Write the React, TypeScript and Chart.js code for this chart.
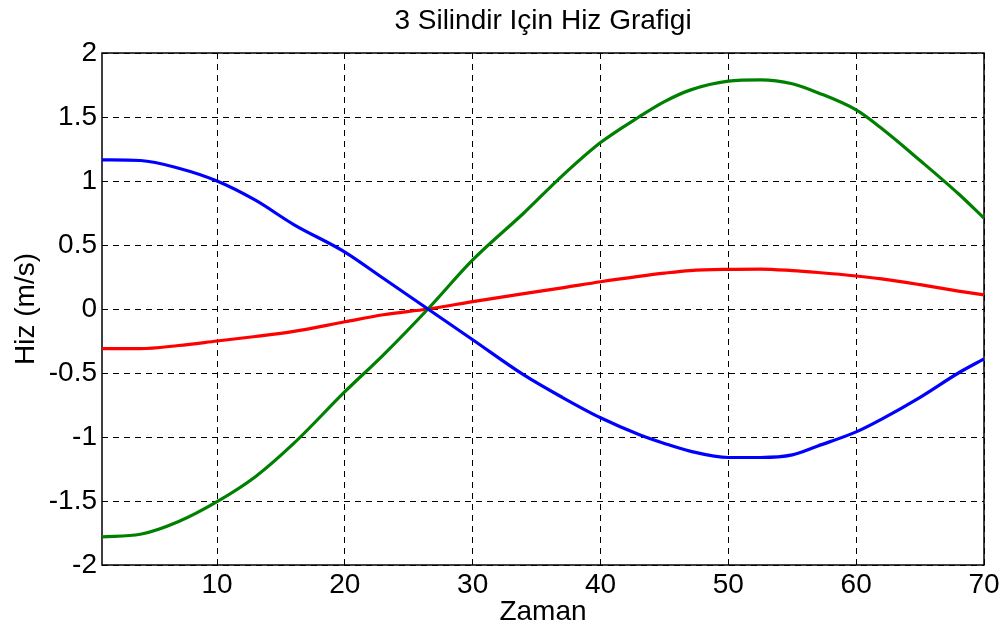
import React, { useEffect, useRef } from "react";
import { Chart, registerables } from "chart.js";

Chart.register(...registerables);

const titleText = "3 Silindir Için Hiz Grafigi";
const xLabel = "Zaman";
const yLabel = "Hiz (m/s)";

const xValues = [1, 4, 7, 10, 13, 16, 20, 23, 26.5, 30, 34, 37, 40, 43, 45, 47, 50, 52.5, 55, 57, 60, 62, 65, 68, 70];
const blueValues = [1.165, 1.16, 1.1, 1.0, 0.85, 0.66, 0.445, 0.24, 0.0, -0.24, -0.515, -0.69, -0.85, -0.98, -1.05, -1.11, -1.16, -1.16, -1.14, -1.07, -0.96, -0.86, -0.69, -0.5, -0.39];
const greenValues = [-1.78, -1.76, -1.66, -1.505, -1.31, -1.05, -0.646, -0.36, 0.0, 0.383, 0.75, 1.04, 1.3, 1.5, 1.62, 1.71, 1.78, 1.79, 1.76, 1.69, 1.555, 1.41, 1.16, 0.9, 0.71];
const redValues = [-0.31, -0.31, -0.285, -0.25, -0.215, -0.175, -0.1, -0.045, 0.0, 0.057, 0.12, 0.165, 0.213, 0.255, 0.28, 0.3, 0.31, 0.312, 0.3, 0.285, 0.258, 0.235, 0.19, 0.14, 0.11];

const xTicks = [10, 20, 30, 40, 50, 60, 70];
const yTicks = [-2, -1.5, -1, -0.5, 0, 0.5, 1, 1.5, 2];

const FONT = "'Liberation Sans', Arial, sans-serif";
const FSIZE = 28;

const toPoints = (ys: number[]) => xValues.map((x, i) => ({ x, y: ys[i] }));

const overlayPlugin = {
  id: "overlay",
  beforeDatasetsDraw(chart: any) {
    const { ctx, chartArea } = chart;
    ctx.save();
    ctx.setLineDash([]);
    ctx.strokeStyle = "#000";
    ctx.lineWidth = 1.5;
    ctx.strokeRect(chartArea.left, chartArea.top, chartArea.right - chartArea.left, chartArea.bottom - chartArea.top);
    ctx.restore();
  },
  afterDraw(chart: any) {
    const { ctx, chartArea } = chart;
    const cx = (chartArea.left + chartArea.right) / 2;
    const cy = (chartArea.top + chartArea.bottom) / 2;
    ctx.save();
    ctx.fillStyle = "#000";
    ctx.textAlign = "center";
    ctx.textBaseline = "middle";
    ctx.font = `${FSIZE}px ${FONT}`;
    ctx.fillText(titleText, cx, 21);
    ctx.fillText(xLabel, cx, 612);
    ctx.translate(26, cy);
    ctx.rotate(-Math.PI / 2);
    ctx.fillText(yLabel, 0, 0);
    ctx.restore();
  },
};

export default function App() {
  const ref = useRef<HTMLCanvasElement>(null);
  useEffect(() => {
    if (!ref.current) return;
    const mk = (label: string, data: number[], color: string) => ({
      label,
      data: toPoints(data),
      borderColor: color,
      backgroundColor: color,
      borderWidth: 3.2,
      pointRadius: 0,
      cubicInterpolationMode: "monotone" as const,
      fill: false,
    });
    const chart = new Chart(ref.current, {
      type: "line",
      data: {
        datasets: [
          mk("blue", blueValues, "#0000ff"),
          mk("green", greenValues, "#008000"),
          mk("red", redValues, "#ff0000"),
        ],
      },
      options: {
        responsive: false,
        animation: false,
        layout: { padding: { top: 53, right: 21, left: 0, bottom: 0 } },
        plugins: { legend: { display: false }, title: { display: false }, tooltip: { enabled: false } },
        scales: {
          x: {
            type: "linear",
            min: 1,
            max: 70,
            afterBuildTicks: (scale: any) => {
              scale.ticks = xTicks.map((v) => ({ value: v }));
            },
            afterFit: (scale: any) => {
              scale.height = 69;
            },
            grid: { color: "#000", lineWidth: 1, drawTicks: false },
            border: { display: false, dash: [6, 5] },
            ticks: {
              color: "#000",
              font: { family: FONT, size: FSIZE },
              padding: 3,
              maxRotation: 0,
              callback: (v: any) => String(v),
            },
          },
          y: {
            type: "linear",
            min: -2,
            max: 2,
            afterBuildTicks: (scale: any) => {
              scale.ticks = yTicks.map((v) => ({ value: v }));
            },
            afterFit: (scale: any) => {
              scale.width = 102;
            },
            grid: { color: "#000", lineWidth: 1, drawTicks: false },
            border: { display: false, dash: [6, 5] },
            ticks: {
              color: "#000",
              font: { family: FONT, size: FSIZE },
              padding: 5,
              callback: (v: any) => String(v),
            },
          },
        },
      },
      plugins: [overlayPlugin],
    });
    return () => chart.destroy();
  }, []);
  return (
    <div style={{ position: "fixed", left: 0, top: 0, width: 1005, height: 634, background: "#fff" }}>
      <canvas ref={ref} width={1005} height={634} />
    </div>
  );
}
